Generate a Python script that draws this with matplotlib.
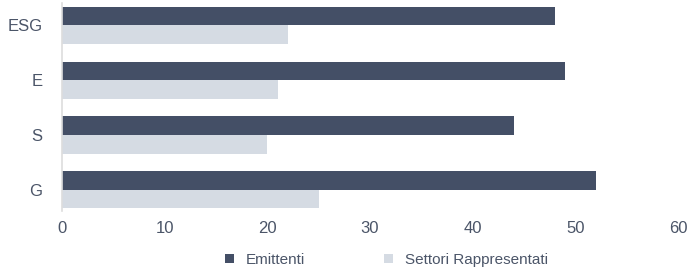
import numpy as np
import matplotlib
matplotlib.use("Agg")
import matplotlib.pyplot as plt

categories = ["ESG", "E", "S", "G"]
emittenti = [48, 49, 44, 52]
settori = [22, 21, 20, 25]
series_names = ["Emittenti", "Settori Rappresentati"]
xticks = [0, 10, 20, 30, 40, 50, 60]

dark = "#444f66"
light = "#d5dbe3"
text_col = "#4b5568"

plt.rcParams["font.family"] = ["Liberation Sans", "DejaVu Sans"]

fig = plt.figure(figsize=(6.88, 2.68), dpi=100)
ax = fig.add_axes([62 / 688, 1 - 211 / 268, 616 / 688, 208 / 268])

y = np.arange(len(categories))
h = 0.34
ax.barh(y - h / 2, emittenti, height=h, color=dark, label=series_names[0])
ax.barh(y + h / 2, settori, height=h, color=light, label=series_names[1])

ax.set_xlim(0, 60)
ax.set_ylim(3.39, -0.41)
ax.set_xticks(xticks)
ax.set_yticks(y)
ax.set_yticklabels(categories)
ax.tick_params(axis="both", length=0, labelsize=12, colors=text_col)
ax.tick_params(axis="x", pad=7)
ax.tick_params(axis="y", pad=14)
for s in ["top", "right", "bottom"]:
    ax.spines[s].set_visible(False)
ax.spines["left"].set_color("#dddddd")
ax.spines["left"].set_linewidth(1.2)

leg = fig.legend(loc="center left", bbox_to_anchor=(211 / 688, 1 - 260 / 268), ncol=2,
                 frameon=False, fontsize=11, handlelength=0.6, handleheight=0.6,
                 handletextpad=0.75, columnspacing=5.2)
for t in leg.get_texts():
    t.set_color(text_col)

fig.savefig("out.png", dpi=100)
